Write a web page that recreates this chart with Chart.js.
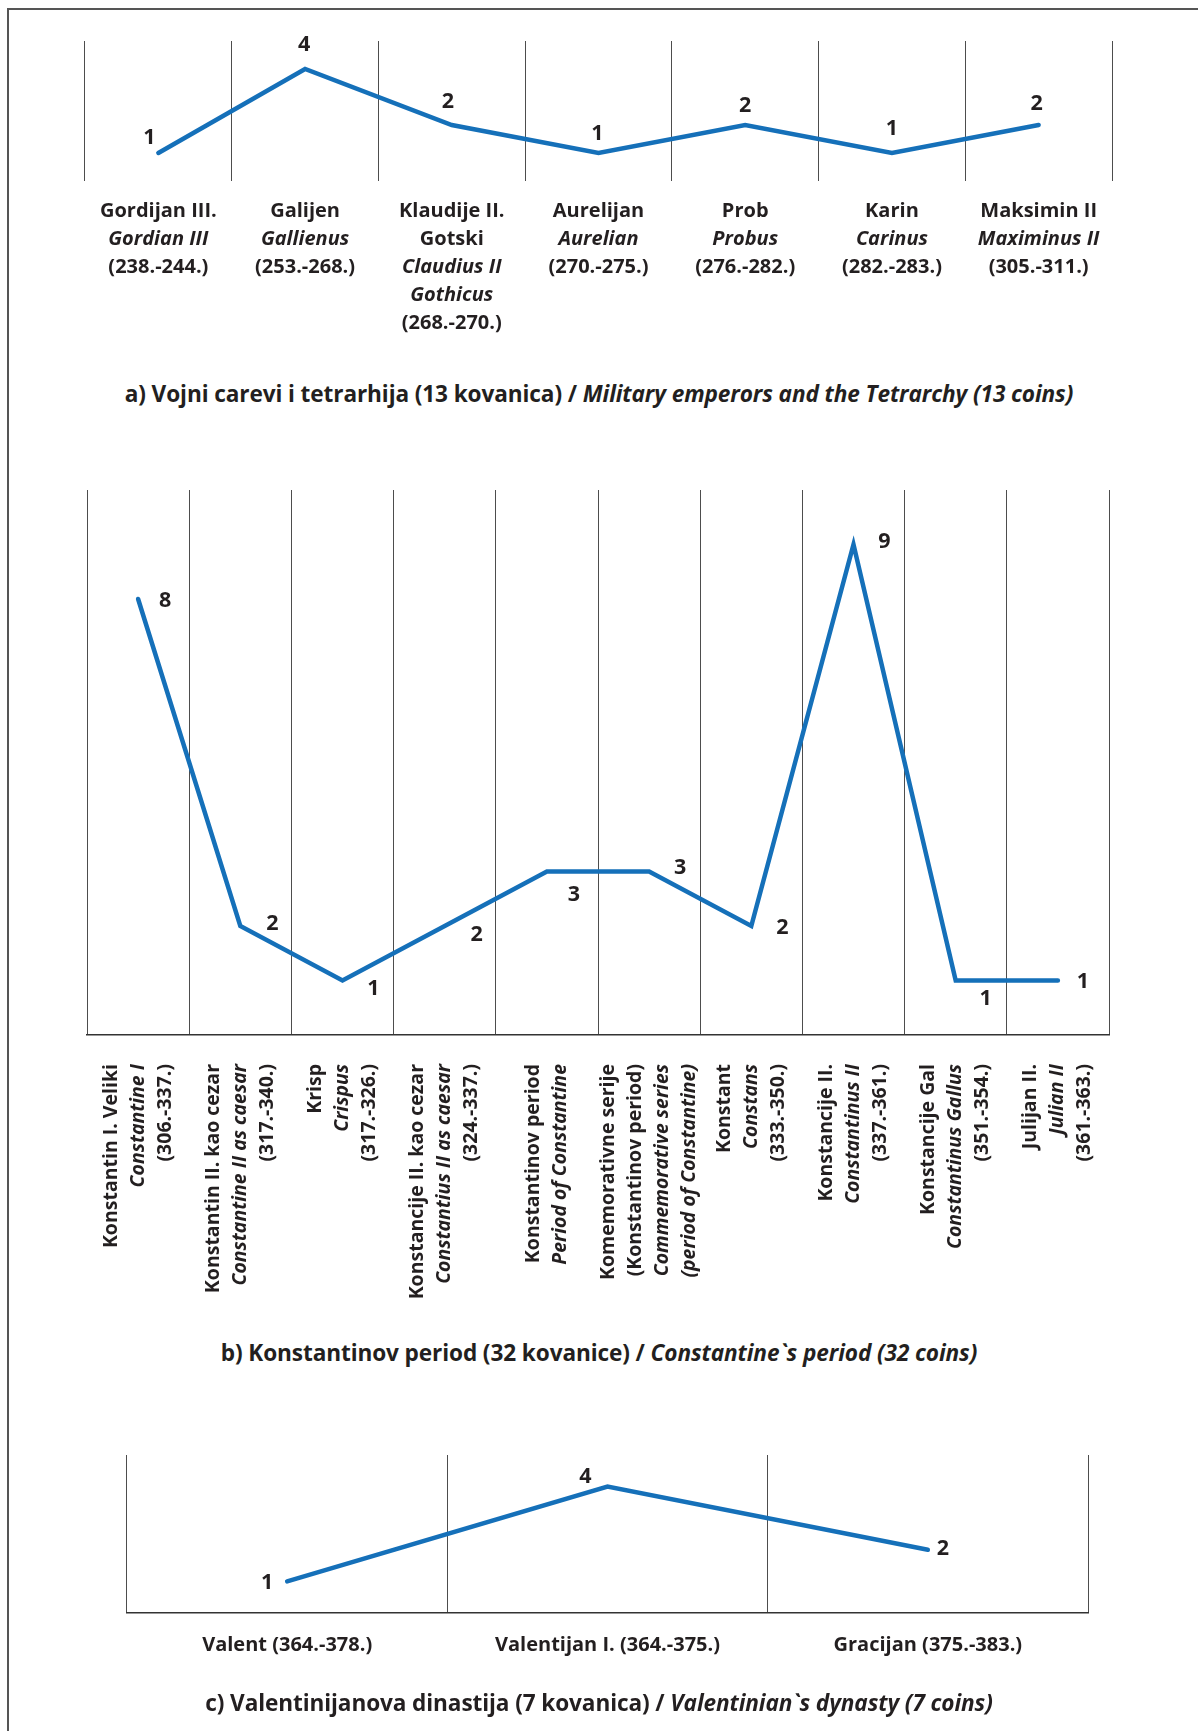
<!DOCTYPE html>
<html>
<head>
<meta charset="utf-8">
<script src="https://cdn.jsdelivr.net/npm/chart.js@4.4.1/dist/chart.umd.min.js"></script>
<style>
  html, body { margin: 0; padding: 0; background: #fff; }
  body { width: 1198px; height: 1731px; position: relative; overflow: hidden; font-family: "Open Sans", sans-serif; color: #231f20; }
  #frame { position: absolute; left: 7px; top: 8px; width: 1191px; height: 1723px; border-top: 2px solid #555; border-left: 2px solid #555; box-sizing: border-box; }
  .box { position: absolute; left: 0; width: 1198px; }
  .cap { position: absolute; left: 0; width: 1198px; text-align: center; font-weight: 700; font-size: 22.6px; line-height: 28px; white-space: nowrap; letter-spacing: -0.1px; }
  .cap i { font-style: italic; }
</style>
</head>
<body>
<div id="frame"></div>
<div class="box" id="boxA" style="top:0;height:340px"><canvas id="chartA"></canvas></div>
<div class="cap" style="top:380px">a) Vojni carevi i tetrarhija (13 kovanica) / <i>Military emperors and the Tetrarchy (13 coins)</i></div>
<div class="box" id="boxB" style="top:440px;height:880px"><canvas id="chartB"></canvas></div>
<div class="cap" style="top:1339px">b) Konstantinov period (32 kovanice) / <i>Constantine`s period (32 coins)</i></div>
<div class="box" id="boxC" style="top:1420px;height:270px"><canvas id="chartC"></canvas></div>
<div class="cap" style="top:1689px">c) Valentinijanova dinastija (7 kovanica) / <i>Valentinian`s dynasty (7 coins)</i></div>
<script>
// ---------- DATA ----------
// a) Military emperors and the Tetrarchy
const namesA = [['Gordijan III.'], ['Galijen'], ['Klaudije II.', 'Gotski'], ['Aurelijan'], ['Prob'], ['Karin'], ['Maksimin II']];
const namesEnA = [['Gordian III'], ['Gallienus'], ['Claudius II', 'Gothicus'], ['Aurelian'], ['Probus'], ['Carinus'], ['Maximinus II']];
const reignsA = ['(238.-244.)', '(253.-268.)', '(268.-270.)', '(270.-275.)', '(276.-282.)', '(282.-283.)', '(305.-311.)'];
const coinsA = [1, 4, 2, 1, 2, 1, 2];

// b) Constantine's period
const namesB = [['Konstantin I. Veliki'], ['Konstantin II. kao cezar'], ['Krisp'], ['Konstancije II. kao cezar'], ['Konstantinov period'], ['Komemorativne serije', '(Konstantinov period)'], ['Konstant'], ['Konstancije II.'], ['Konstancije Gal'], ['Julijan II.']];
const namesEnB = [['Constantine I'], ['Constantine II as caesar'], ['Crispus'], ['Constantius II as caesar'], ['Period of Constantine'], ['Commemorative series', '(period of Constantine)'], ['Constans'], ['Constantinus II'], ['Constantinus Gallus'], ['Julian II']];
const reignsB = ['(306.-337.)', '(317.-340.)', '(317.-326.)', '(324.-337.)', null, null, '(333.-350.)', '(337.-361.)', '(351.-354.)', '(361.-363.)'];
const coinsB = [8, 2, 1, 2, 3, 3, 2, 9, 1, 1];

// c) Valentinian's dynasty
const namesC = ['Valent', 'Valentijan I.', 'Gracijan'];
const reignsC = ['(364.-378.)', '(364.-375.)', '(375.-383.)'];
const coinsC = [1, 4, 2];

// ---------- STYLE ----------
const FONT = '"Open Sans", sans-serif';
const INK = '#231f20';
const BLUE = '#1570b9';
const GRID = '#4d4d4d';

// value labels next to the points
const valueLabels = {
  id: 'valueLabels',
  afterDatasetsDraw(chart, args, opts) {
    const ctx = chart.ctx;
    const meta = chart.getDatasetMeta(0);
    const data = chart.data.datasets[0].data;
    ctx.save();
    ctx.font = '700 ' + opts.size + 'px ' + FONT;
    ctx.fillStyle = INK;
    ctx.textAlign = 'center';
    ctx.textBaseline = 'middle';
    meta.data.forEach((pt, i) => {
      const off = opts.offsets[i] || [0, -20];
      ctx.fillText(String(data[i]), pt.x + off[0], pt.y + off[1]);
    });
    ctx.restore();
  }
};

// multi-line category labels (Croatian regular, English italic, reign regular)
const catLabels = {
  id: 'catLabels',
  afterDraw(chart, args, opts) {
    const ctx = chart.ctx;
    const xs = chart.scales.x;
    ctx.save();
    ctx.fillStyle = INK;
    opts.items.forEach((lines, i) => {
      const cx = xs.getPixelForValue(i);
      const n = lines.length;
      lines.forEach((ln, k) => {
        ctx.font = (ln.it ? 'italic ' : '') + '700 ' + opts.size + 'px ' + FONT;
        if (opts.rotate) {
          ctx.save();
          ctx.translate(cx + (k - (n - 1) / 2) * opts.lh, opts.top);
          ctx.rotate(-Math.PI / 2);
          ctx.textAlign = 'right';
          ctx.textBaseline = 'middle';
          ctx.fillText(ln.t, 0, 0);
          ctx.restore();
        } else {
          ctx.textAlign = 'center';
          ctx.textBaseline = 'middle';
          ctx.fillText(ln.t, cx, opts.top + k * opts.lh);
        }
      });
    });
    ctx.restore();
  }
};

function buildLines(hr, en, reign) {
  return hr.map((h, i) => {
    const out = h.map(t => ({ t, it: false }));
    en[i].forEach(t => out.push({ t, it: true }));
    if (reign[i]) out.push({ t: reign[i], it: false });
    return out;
  });
}

function makeChart(id, labels, values, yMax, pad, border, labelOpts, catOpts) {
  return new Chart(document.getElementById(id), {
    type: 'line',
    data: {
      labels: labels,
      datasets: [{
        data: values,
        borderColor: BLUE,
        borderWidth: 4.5,
        tension: 0,
        pointRadius: 0,
        pointHoverRadius: 0,
        borderCapStyle: 'round',
        borderJoinStyle: 'miter',
        fill: false,
        clip: false
      }]
    },
    options: {
      responsive: true,
      maintainAspectRatio: false,
      animation: false,
      events: [],
      layout: { padding: pad },
      plugins: {
        legend: { display: false },
        tooltip: { enabled: false },
        valueLabels: labelOpts,
        catLabels: catOpts
      },
      scales: {
        x: {
          type: 'category',
          offset: true,
          grid: { display: true, offset: true, color: GRID, lineWidth: 1, drawTicks: false },
          border: { display: border, color: '#333', width: 1.5 },
          ticks: { display: false }
        },
        y: {
          display: false,
          min: 0,
          max: yMax
        }
      }
    },
    plugins: [valueLabels, catLabels]
  });
}

// a)
makeChart('chartA', namesA.map(n => n.join(' ')), coinsA, 5,
  { top: 41, bottom: 159, left: 85, right: 86 }, false,
  { size: 21.5, offsets: [[-9, -15], [-1, -24], [-4, -23], [-1, -19], [0, -19], [0, -24], [-2, -21]] },
  { items: buildLines(namesA, namesEnA, reignsA), size: 20, lh: 28, top: 211, rotate: false });

// b)
makeChart('chartB', namesB.map(n => n.join(' ')), coinsB, 10,
  { top: 50, bottom: 285, left: 87, right: 89 }, true,
  { size: 21.5, offsets: [[27, 2], [32, -2], [31, 8], [32, 9], [27, 23], [31, -4], [31, 2], [31, -3], [30, 18], [25, 1]] },
  { items: buildLines(namesB, namesEnB, reignsB), size: 19.5, lh: 27, top: 1064 - 440, rotate: true });

// c)
makeChart('chartC', namesC, coinsC, 5,
  { top: 35, bottom: 77, left: 127, right: 110 }, true,
  { size: 21.5, offsets: [[-20, 1], [-22, -10], [15, -1]] },
  { items: namesC.map((n, i) => [{ t: n + ' ' + reignsC[i], it: false }]), size: 20, lh: 28, top: 1645 - 1420, rotate: false });
</script>
</body>
</html>
